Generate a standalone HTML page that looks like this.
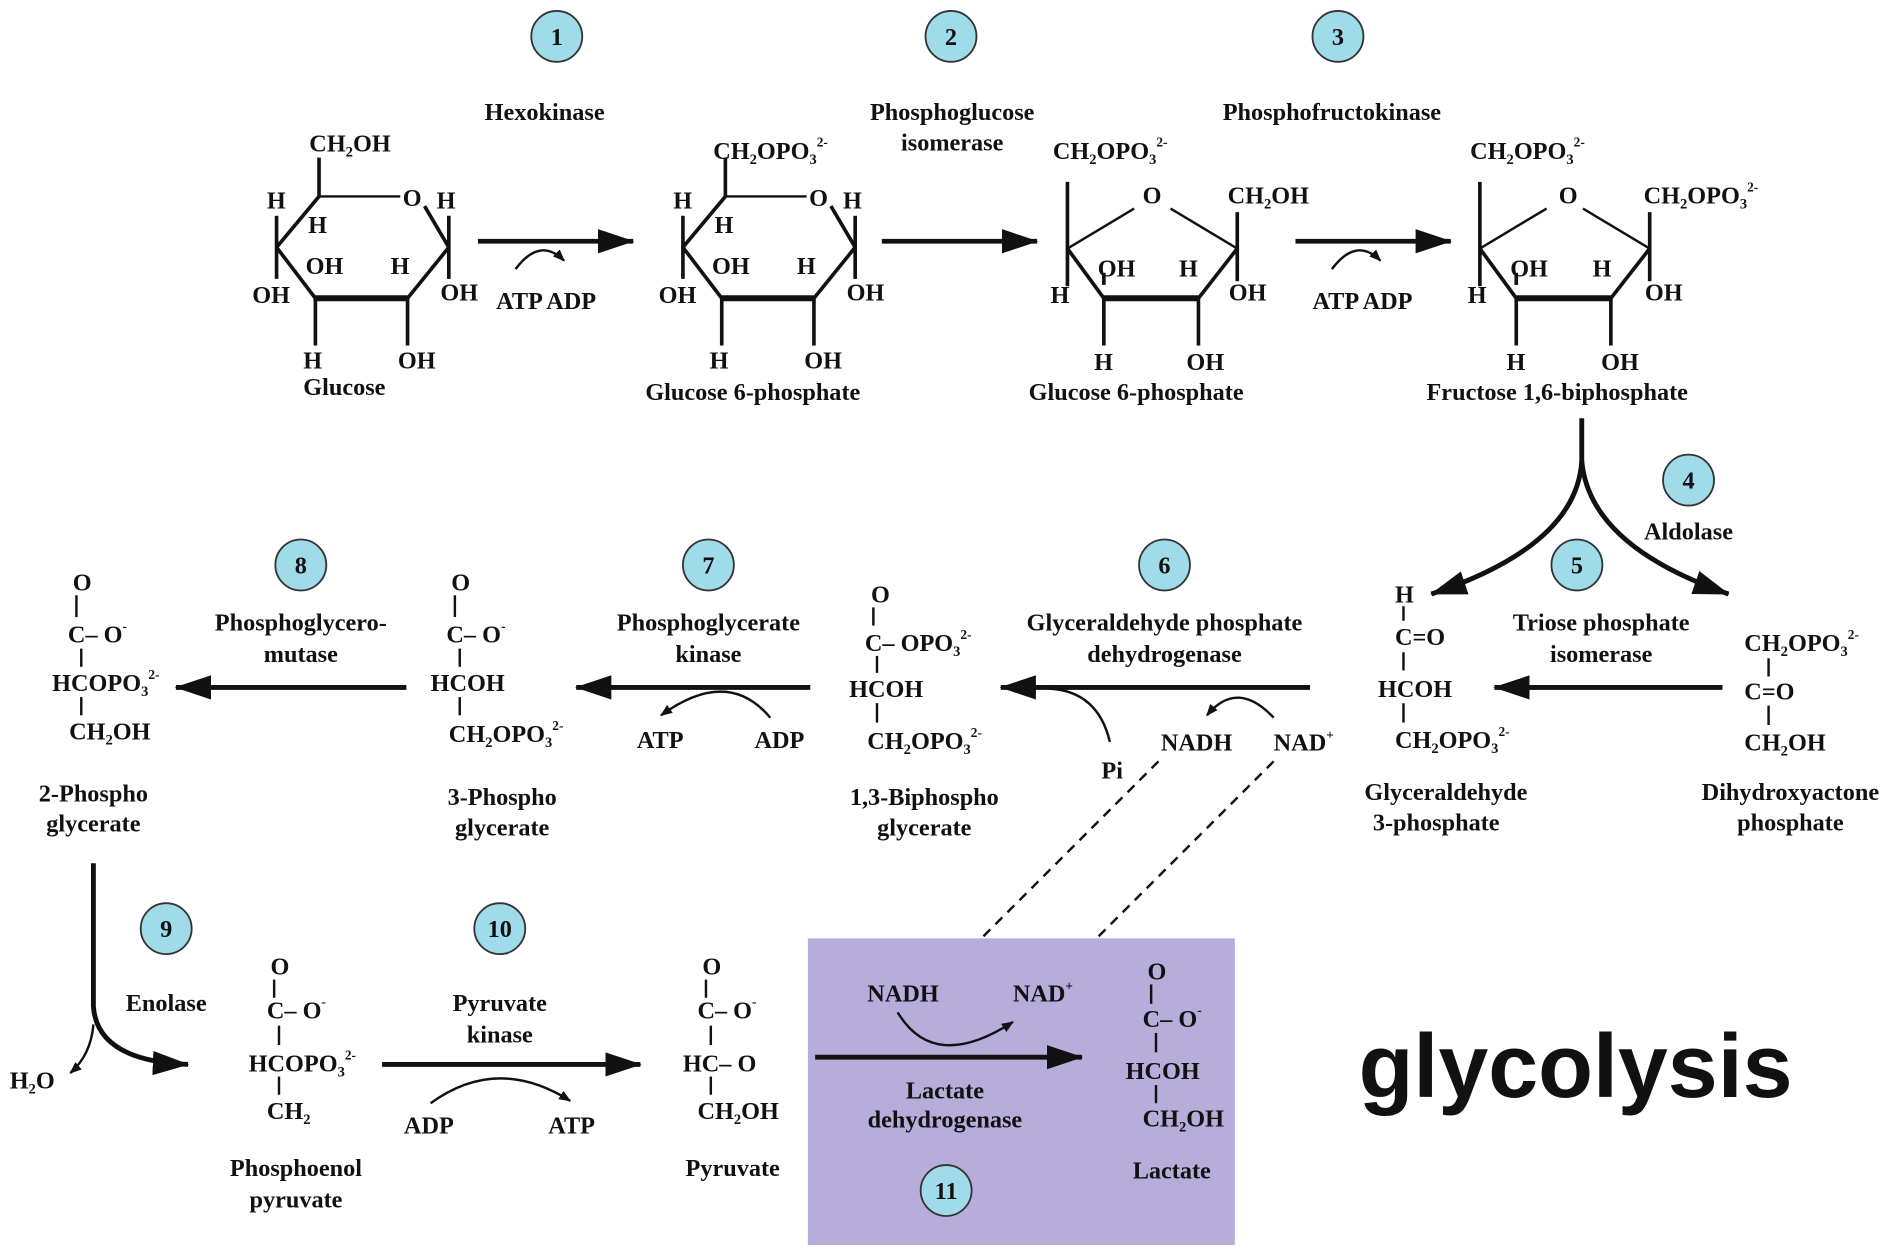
<!DOCTYPE html>
<html><head><meta charset="utf-8"><style>
html,body{margin:0;padding:0;background:#fff;}
svg{display:block}
text{font-family:"Liberation Serif",serif;font-weight:bold;fill:#111;}
.s{font-size:20px}
.c circle{fill:#9fdbe8;stroke:#333;stroke-width:1.5}
.c text{font-size:20px;text-anchor:middle}
</style></head><body>
<svg width="1902" height="1256" viewBox="0 0 1568 1036" preserveAspectRatio="none" xmlns="http://www.w3.org/2000/svg">
<defs>
<marker id="ah" markerWidth="10" markerHeight="8" refX="9" refY="4" orient="auto" markerUnits="userSpaceOnUse" viewBox="0 0 10 8"><path d="M0,0 L10,4 L0,8z" fill="#111"/></marker>
<marker id="big" viewBox="0 0 30 20" refX="29" refY="10" markerWidth="30" markerHeight="20" orient="auto" markerUnits="userSpaceOnUse"><path d="M0,0 L30,10 L0,20z" fill="#111"/></marker>
</defs>
<rect x="666" y="774" width="352" height="253" fill="#b7addb"/>
<g class="c">
<circle cx="459" cy="30" r="21"/><text x="459" y="37">1</text>
<circle cx="784" cy="30" r="21"/><text x="784" y="37">2</text>
<circle cx="1103" cy="30" r="21"/><text x="1103" y="37">3</text>
<circle cx="1392" cy="396" r="21"/><text x="1392" y="403">4</text>
<circle cx="1300" cy="466" r="21"/><text x="1300" y="473">5</text>
<circle cx="960" cy="466" r="21"/><text x="960" y="473">6</text>
<circle cx="584" cy="466" r="21"/><text x="584" y="473">7</text>
<circle cx="248" cy="466" r="21"/><text x="248" y="473">8</text>
<circle cx="137" cy="766" r="21"/><text x="137" y="773">9</text>
<circle cx="412" cy="766" r="21"/><text x="412" y="773">10</text>
<circle cx="780" cy="982" r="21"/><text x="780" y="989">11</text>
</g>
<g class="s" text-anchor="middle">
<text x="449" y="99">Hexokinase</text>
<text x="785" y="99">Phosphoglucose</text><text x="785" y="124">isomerase</text>
<text x="1098" y="99">Phosphofructokinase</text>
<text x="1392" y="445">Aldolase</text>
<text x="1320" y="520">Triose phosphate</text><text x="1320" y="546">isomerase</text>
<text x="960" y="520">Glyceraldehyde phosphate</text><text x="960" y="546">dehydrogenase</text>
<text x="584" y="520">Phosphoglycerate</text><text x="584" y="546">kinase</text>
<text x="248" y="520">Phosphoglycero-</text><text x="248" y="546">mutase</text>
<text x="137" y="834">Enolase</text>
<text x="412" y="834">Pyruvate</text><text x="412" y="860">kinase</text>
<text x="779" y="906">Lactate</text><text x="779" y="930">dehydrogenase</text>
</g>
<!-- glucose ring template -->
<g id="glc" stroke="#111" stroke-width="3" fill="none">
<line x1="263" y1="130" x2="263" y2="162"/>
<line x1="263" y1="162" x2="330" y2="162" stroke-width="2"/>
<line x1="263" y1="162" x2="228" y2="204"/>
<line x1="228" y1="204" x2="260" y2="246"/>
<line x1="260" y1="246" x2="336" y2="246" stroke-width="5"/>
<line x1="336" y1="246" x2="370" y2="204"/>
<line x1="370" y1="204" x2="350" y2="170"/>
<line x1="228" y1="178" x2="228" y2="230"/>
<line x1="260" y1="246" x2="260" y2="285"/>
<line x1="336" y1="246" x2="336" y2="285"/>
<line x1="370" y1="178" x2="370" y2="230"/>
</g>
<g class="s">
<text x="255" y="125">CH₂OH</text>
<text x="220" y="172">H</text><text x="254" y="192">H</text><text x="332" y="170">O</text><text x="360" y="172">H</text>
<text x="252" y="226">OH</text><text x="322" y="226">H</text>
<text x="208" y="250">OH</text><text x="363" y="248">OH</text>
<text x="250" y="304">H</text><text x="328" y="304">OH</text>
<text x="250" y="326">Glucose</text>
</g>
<use href="#glc" x="335" y="0"/>
<g class="s">
<text x="588" y="131">CH₂OPO₃<tspan font-size="11" dy="-10">2-</tspan></text>
<text x="555" y="172">H</text><text x="589" y="192">H</text><text x="667" y="170">O</text><text x="695" y="172">H</text>
<text x="587" y="226">OH</text><text x="657" y="226">H</text>
<text x="543" y="250">OH</text><text x="698" y="248">OH</text>
<text x="585" y="304">H</text><text x="663" y="304">OH</text>
<text x="532" y="330">Glucose 6-phosphate</text>
</g>
<!-- fructose rings -->
<g id="fru" stroke="#111" stroke-width="3" fill="none">
<line x1="880" y1="150" x2="880" y2="236"/>
<line x1="880" y1="205" x2="935" y2="172" stroke-width="2"/>
<line x1="965" y1="172" x2="1020" y2="205" stroke-width="2"/>
<line x1="880" y1="205" x2="910" y2="246"/>
<line x1="910" y1="246" x2="988" y2="246" stroke-width="5"/>
<line x1="988" y1="246" x2="1020" y2="205"/>
<line x1="1020" y1="175" x2="1020" y2="232"/>
<line x1="910" y1="246" x2="910" y2="285"/>
<line x1="988" y1="246" x2="988" y2="285"/>
<line x1="910" y1="235" x2="910" y2="225"/>
</g>
<use href="#fru" x="340" y="0"/>
<g class="s">
<text x="868" y="131">CH₂OPO₃<tspan font-size="11" dy="-10">2-</tspan></text>
<text x="942" y="168">O</text><text x="1012" y="168">CH₂OH</text>
<text x="905" y="228">OH</text><text x="972" y="228">H</text>
<text x="866" y="250">H</text><text x="1013" y="248">OH</text>
<text x="902" y="305">H</text><text x="978" y="305">OH</text>
<text x="848" y="330">Glucose 6-phosphate</text>
<text x="1212" y="131">CH₂OPO₃<tspan font-size="11" dy="-10">2-</tspan></text>
<text x="1285" y="168">O</text><text x="1355" y="168">CH₂OPO₃<tspan font-size="11" dy="-10">2-</tspan></text>
<text x="1245" y="228">OH</text><text x="1313" y="228">H</text>
<text x="1210" y="250">H</text><text x="1356" y="248">OH</text>
<text x="1242" y="305">H</text><text x="1320" y="305">OH</text>
<text x="1176" y="330">Fructose 1,6-biphosphate</text>
</g>
<!-- top arrows -->
<g stroke="#111" stroke-width="4" fill="none">
<line x1="394" y1="199" x2="522" y2="199" marker-end="url(#big)"/>
<line x1="727" y1="199" x2="855" y2="199" marker-end="url(#big)"/>
<line x1="1068" y1="199" x2="1196" y2="199" marker-end="url(#big)"/>
</g>
<g stroke="#111" stroke-width="2" fill="none">
<path d="M425,222 Q445,195 465,215" marker-end="url(#ah)"/>
<path d="M1098,222 Q1118,195 1138,215" marker-end="url(#ah)"/>
</g>
<g class="s"><text x="409" y="255">ATP ADP</text><text x="1082" y="255">ATP ADP</text></g>
<!-- aldolase split -->
<g stroke="#111" stroke-width="4" fill="none">
<line x1="1304" y1="345" x2="1304" y2="380"/>
<path d="M1304,380 Q1300,450 1180,490" marker-end="url(#big)"/>
<path d="M1304,380 Q1310,450 1425,490" marker-end="url(#big)"/>
</g>
<!-- middle row arrows -->
<g stroke="#111" stroke-width="4" fill="none">
<line x1="1420" y1="567" x2="1232" y2="567" marker-end="url(#big)"/>
<line x1="1080" y1="567" x2="825" y2="567" marker-end="url(#big)"/>
<line x1="668" y1="567" x2="475" y2="567" marker-end="url(#big)"/>
<line x1="335" y1="567" x2="145" y2="567" marker-end="url(#big)"/>
</g>
<g stroke="#111" stroke-width="2" fill="none">
<path d="M635,592 Q600,550 545,590" marker-end="url(#ah)"/>
<path d="M915,612 Q905,570 865,568"/>
<path d="M1050,592 Q1020,560 995,590" marker-end="url(#ah)"/>
<line x1="955" y1="628" x2="808" y2="775" stroke-dasharray="8,6"/>
<line x1="1050" y1="628" x2="903" y2="775" stroke-dasharray="8,6"/>
</g>
<g class="s">
<text x="525" y="617">ATP</text><text x="622" y="617">ADP</text>
<text x="908" y="642">Pi</text><text x="957" y="619">NADH</text><text x="1050" y="619">NAD<tspan font-size="11" dy="-9">+</tspan></text>
</g>
<!-- middle row molecules -->
<g class="s">
<text x="1150" y="497">H</text>
<text x="1150" y="532">C=O</text>
<text x="1136" y="575">HCOH</text>
<text x="1150" y="617">CH₂OPO₃<tspan font-size="11" dy="-10">2-</tspan></text>
<text x="1192" y="660" text-anchor="middle">Glyceraldehyde</text><text x="1184" y="685" text-anchor="middle">3-phosphate</text>
<text x="1438" y="537">CH₂OPO₃<tspan font-size="11" dy="-10">2-</tspan></text>
<text x="1438" y="577">C=O</text>
<text x="1438" y="619">CH₂OH</text>
<text x="1476" y="660" text-anchor="middle">Dihydroxyactone</text><text x="1476" y="685" text-anchor="middle">phosphate</text>
<text x="718" y="497">O</text>
<text x="713" y="537">C– OPO₃<tspan font-size="11" dy="-10">2-</tspan></text>
<text x="700" y="575">HCOH</text>
<text x="715" y="618">CH₂OPO₃<tspan font-size="11" dy="-10">2-</tspan></text>
<text x="762" y="664" text-anchor="middle">1,3-Biphospho</text><text x="762" y="689" text-anchor="middle">glycerate</text>
<text x="372" y="487">O</text>
<text x="368" y="530">C– O<tspan font-size="11" dy="-10">-</tspan></text>
<text x="355" y="570">HCOH</text>
<text x="370" y="612">CH₂OPO₃<tspan font-size="11" dy="-10">2-</tspan></text>
<text x="414" y="664" text-anchor="middle">3-Phospho</text><text x="414" y="689" text-anchor="middle">glycerate</text>
<text x="60" y="487">O</text>
<text x="56" y="530">C– O<tspan font-size="11" dy="-10">-</tspan></text>
<text x="43" y="570">HCOPO₃<tspan font-size="11" dy="-10">2-</tspan></text>
<text x="57" y="610">CH₂OH</text>
<text x="77" y="661" text-anchor="middle">2-Phospho</text><text x="77" y="686" text-anchor="middle">glycerate</text>
</g>
<g stroke="#111" stroke-width="2">
<line x1="1157" y1="500" x2="1157" y2="512"/><line x1="1157" y1="538" x2="1157" y2="553"/><line x1="1157" y1="580" x2="1157" y2="596"/>
<line x1="1458" y1="543" x2="1458" y2="558"/><line x1="1458" y1="582" x2="1458" y2="598"/>
<line x1="720" y1="501" x2="720" y2="516"/><line x1="723" y1="541" x2="723" y2="555"/><line x1="723" y1="580" x2="723" y2="596"/>
<line x1="375" y1="491" x2="375" y2="509"/><line x1="379" y1="535" x2="379" y2="550"/><line x1="379" y1="575" x2="379" y2="590"/>
<line x1="63" y1="491" x2="63" y2="509"/><line x1="67" y1="535" x2="67" y2="550"/><line x1="67" y1="575" x2="67" y2="590"/>
</g>
<!-- bottom row -->
<g stroke="#111" stroke-width="4" fill="none">
<path d="M77,712 L77,830 Q80,875 155,878" marker-end="url(#big)"/>
<line x1="315" y1="878" x2="528" y2="878" marker-end="url(#big)"/>
<line x1="672" y1="872" x2="892" y2="872" marker-end="url(#big)"/>
</g>
<g stroke="#111" stroke-width="2" fill="none">
<path d="M77,845 Q75,870 58,885" marker-end="url(#ah)"/>
<path d="M355,910 Q410,870 470,908" marker-end="url(#ah)"/>
<path d="M740,835 Q770,885 835,843" marker-end="url(#ah)"/>
</g>
<g class="s">
<text x="8" y="898">H₂O</text>
<text x="223" y="804">O</text>
<text x="220" y="840">C– O<tspan font-size="11" dy="-10">-</tspan></text>
<text x="205" y="884">HCOPO₃<tspan font-size="11" dy="-10">2-</tspan></text>
<text x="220" y="923">CH₂</text>
<text x="244" y="970" text-anchor="middle">Phosphoenol</text><text x="244" y="996" text-anchor="middle">pyruvate</text>
<text x="333" y="935">ADP</text><text x="452" y="935">ATP</text>
<text x="579" y="804">O</text>
<text x="575" y="840">C– O<tspan font-size="11" dy="-10">-</tspan></text>
<text x="563" y="884">HC– O</text>
<text x="575" y="923">CH₂OH</text>
<text x="604" y="970" text-anchor="middle">Pyruvate</text>
<text x="715" y="826">NADH</text><text x="835" y="826">NAD<tspan font-size="11" dy="-9">+</tspan></text>
<text x="946" y="808">O</text>
<text x="942" y="847">C– O<tspan font-size="11" dy="-10">-</tspan></text>
<text x="928" y="890">HCOH</text>
<text x="942" y="929">CH₂OH</text>
<text x="966" y="972" text-anchor="middle">Lactate</text>
</g>
<g stroke="#111" stroke-width="2">
<line x1="226" y1="808" x2="226" y2="823"/><line x1="230" y1="846" x2="230" y2="862"/><line x1="230" y1="888" x2="230" y2="903"/>
<line x1="582" y1="808" x2="582" y2="823"/><line x1="586" y1="846" x2="586" y2="862"/><line x1="586" y1="888" x2="586" y2="903"/>
<line x1="949" y1="812" x2="949" y2="828"/><line x1="953" y1="852" x2="953" y2="868"/><line x1="953" y1="895" x2="953" y2="910"/>
</g>
<text x="1120" y="905" style="font-family:'Liberation Sans',sans-serif;font-size:74px;font-weight:bold">glycolysis</text>
</svg>
</body></html>
